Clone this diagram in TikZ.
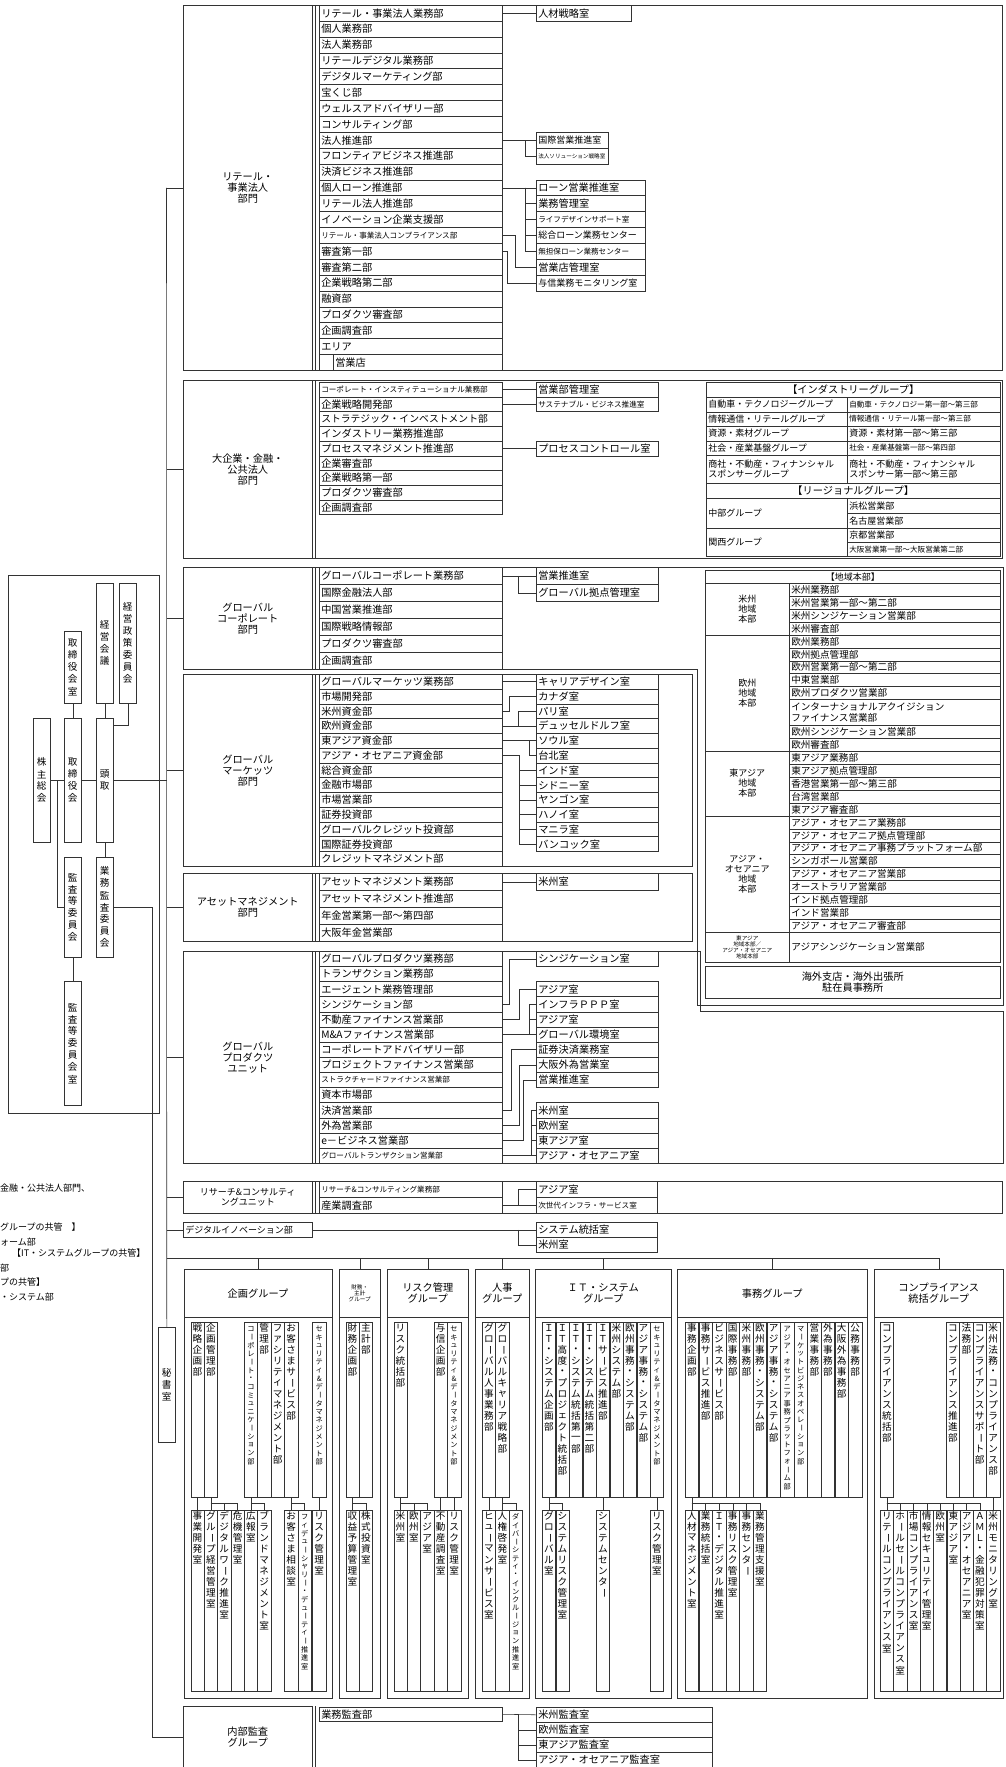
\documentclass[tikz,border=0pt]{standalone}
\usepackage{fontspec}
\usepackage{graphicx}
\setmainfont{Noto Sans CJK JP}
\usetikzlibrary{positioning,calc}

\newcommand\dfont{\fontsize{10.2}{11}\selectfont}
\newcommand\rfont{\fontsize{9.6}{10.6}\selectfont}
\newcommand\mfont{\fontsize{9}{10}\selectfont}
\newcommand\sfont{\fontsize{7.6}{8.4}\selectfont}
\newcommand\tfont{\fontsize{5.6}{6.2}\selectfont}
\newcommand\vfont{\fontsize{9.6}{10}\selectfont}
\newcommand\vsfont{\fontsize{7.2}{8}\selectfont}

% vertical text: one glyph per line
\makeatletter
\def\tate@bar{ー}
\newcommand\tate[2][1.15]{\def\tate@p{#1}\edef\tate@arg{#2}%
  \vtop{\offinterlineskip\expandafter\tate@run\expandafter{\tate@arg}}}
\def\tate@run#1{\@tfor\tate@c:=#1\do{\tate@one}}
\def\tate@one{\vbox to \tate@p em{\vss\hbox to 1em{\hss
  \ifx\tate@c\tate@bar\rotatebox[origin=c]{-90}{ー}\else\tate@c\fi\hss}\vss}}
\makeatother

\tikzset{
  ln/.style={draw=black!80, line width=.55pt},
  base/.style={ln, anchor=north west, inner ysep=0pt, inner xsep=2pt},
  dept/.style={base, text width=179pt, minimum height=#1, align=left, font=\dfont},
  room/.style 2 args={base, text width=#1, minimum height=#2, align=left, font=\dfont},
  seclabel/.style={base, minimum width=129, minimum height=#1, align=center, font=\dfont},
  grphead/.style={base, inner xsep=0pt, minimum width=#1, minimum height=48, align=center, font=\dfont},
  ucol/.style={ln, anchor=north west, inner sep=0pt, minimum width=13.4, text height=11pt, text depth=164pt, font=\vfont},
  lcol/.style={ucol, text depth=170pt},
  gov/.style={ln, anchor=north west, inner sep=0pt, minimum width=17, minimum height=#1, font=\vfont},
  note/.style={anchor=west, inner sep=0pt, font=\mfont},
}

\begin{document}
\begin{tikzpicture}[x=1pt,y=-1pt]
\fill[white] (0,0) rectangle (1005,1767);
\useasboundingbox (0,0) rectangle (1005,1767);
\coordinate (tk) at (166.5,0);
\coordinate (au) at (152,0);

% governance
\draw[ln] (8,575) rectangle (159,1113);
\node[gov=124] (kabunushi) at (33,718) {\tate[1.25]{株主総会}};
\node[gov=124] (torishimari) at (64,718) {\tate[1.25]{取締役会}};
\node[gov=72] (torishitsu) at (64,631) {\tate[1.25]{取締役会室}};
\node[gov=124] (todori) at (96,718) {\tate[1.25]{頭取}};
\node[gov=120] (keieikaigi) at (96,583) {\tate[1.25]{経営会議}};
\node[gov=120] (seisaku) at (119,583) {\tate[1.25]{経営政策委員会}};
\node[gov=100] (kansaiin) at (64,857) {\tate[1.25]{監査等委員会}};
\node[gov=100] (gyokan) at (96,857) {\tate[1.25]{業務監査委員会}};
\node[gov=124] (kansashitsu) at (64,981) {\tate[1.25]{監査等委員会室}};
\node[gov=115] (hisho) at (158,1327) {\tate[1.25]{秘書室}};
\draw[ln] (kabunushi.east) -- (torishimari.west);
\draw[ln] (torishimari.east) -- (todori.west);
\draw[ln] (torishitsu.south) -- (torishimari.north);
\draw[ln] (keieikaigi.south) -- (todori.north);
\draw[ln] (seisaku.south) |- ([yshift=-7pt]todori.north east);
\draw[ln] (todori.south) -- (gyokan.north);
\draw[ln] (kansaiin.south) -- (kansashitsu.north);
\draw[ln] ($(kabunushi.east)!.5!(torishimari.west)$) |- (kansaiin.west);
\draw[ln] (todori.east) -- (todori.east -| tk);

% notes (cut at the left edge)
\node[note] (n1) at (0,1188) {金融・公共法人部門、};
\node[note] (n2) at (0,1227) {グループの共管　】};
\node[note] (n3) at (0,1242) {ォーム部};
\node[note] (n4) at (12,1253) {【IT・システムグループの共管】};
\node[note] (n5) at (0,1268) {部};
\node[note] (n6) at (0,1282) {プの共管】};
\node[note] (n7) at (0,1297) {・システム部};

% retail
\draw[ln] (183,5) rectangle (1002,370);
\node[seclabel=365] (retail) at (183,5) {リテール・\\事業法人\\部門};
\draw[ln] (315,5) -- (315,370);
\foreach \t [count=\i] in {リテール・事業法人業務部,個人業務部,法人業務部,リテールデジタル業務部,デジタルマーケティング部,宝くじ部,ウェルスアドバイザリー部,コンサルティング部,法人推進部,フロンティアビジネス推進部,決済ビジネス推進部,個人ローン推進部,リテール法人推進部,イノベーション企業支援部,{\sfont リテール・事業法人コンプライアンス部},審査第一部,審査第二部,企業戦略第二部,融資部,プロダクツ審査部,企画調査部}
  \node[dept=15.87] (ra\i) at (319,{5+(\i-1)*15.87}) {\t};
\node[dept=15.87] (area) at (319,{5+21*15.87}) {エリア};
\node[room={165pt}{15.87}] (eigyoten) at (333,{5+22*15.87}) {営業店};
\draw[ln] (area.south west) -- (area.south west |- eigyoten.south) -- (eigyoten.south west);
\node[room={91pt}{15.87}] (jinzai) at (536,5) {人材戦略室};
\node[room={68pt}{15.87}, font=\mfont] (kokusai) at (536,{5+8*15.87}) {国際営業推進室};
\node[room={68pt}{15.87}, font=\tfont] (hojinsol) at (536,{5+9*15.87}) {法人ソリューション戦略室};
\foreach \t/\f [count=\i] in {ローン営業推進室/\dfont,業務管理室/\dfont,ライフデザインサポート室/\sfont,総合ローン業務センター/\mfont,無担保ローン業務センター/\sfont,営業店管理室/\dfont,与信業務モニタリング室/\mfont}
  \node[room={105pt}{15.87}, font=\f] (rl\i) at (536,{5+(10+\i)*15.87}) {\t};
\draw[ln] (ra1.east) -- (jinzai.west);
\draw[ln] (ra9.east) -- (kokusai.west);
\draw[ln] (ra9.east) ++(23,0) |- (hojinsol.west);
\draw[ln] (ra12.east) -- (rl1.west);
\foreach \i in {2,...,5} \draw[ln] (ra12.east) ++(23,0) |- (rl\i.west);
\draw[ln] (ra15.east) -- ++(13,0) |- (rl6.west);
\draw[ln] (ra16.east) -- ++(5,0) |- (rl7.west);

% large corporates
\draw[ln] (183,380) rectangle (1002,558);
\node[seclabel=178] (daikigyo) at (183,380) {大企業・金融・\\公共法人\\部門};
\draw[ln] (315,380) -- (315,558);
\foreach \t [count=\i] in {{\sfont コーポレート・インスティテューショナル業務部},企業戦略開発部,{\fontsize{9.8}{10.5}\selectfont ストラテジック・インベストメント部},インダストリー業務推進部,プロセスマネジメント推進部,企業審査部,企業戦略第一部,プロダクツ審査部,企画調査部}
  \node[dept=14.7] (rb\i) at (319,{382+(\i-1)*14.7}) {\t};
\node[room={118pt}{14.7}] (eikan) at (536,382) {営業部管理室};
\node[room={118pt}{14.7}, font=\sfont] (sustain) at (536,396.7) {サステナブル・ビジネス推進室};
\node[room={118pt}{14.7}] (proc) at (536,{382+4*14.7}) {プロセスコントロール室};
\draw[ln] (rb1.east) -- (eikan.west);
\draw[ln] (rb2.east) -- (sustain.west);
\draw[ln] (rb5.east) -- (proc.west);
% industry / regional groups
\node[base, minimum width=294, minimum height=15, font=\dfont] (indh) at (706,382) {【インダストリーグループ】};
\foreach \l/\r/\y/\h [count=\i] in {自動車・テクノロジーグループ/{\sfont 自動車・テクノロジー第一部～第三部}/397/14.5,情報通信・リテールグループ/{\sfont 情報通信・リテール第一部～第三部}/411.5/14.5,資源・素材グループ/資源・素材第一部～第三部/426/14.5,社会・産業基盤グループ/{\sfont 社会・産業基盤第一部～第四部}/440.5/14.5,商社・不動産・フィナンシャル\\スポンサーグループ/商社・不動産・フィナンシャル\\スポンサー第一部～第三部/455/28}
{
  \node[room={137pt}{\h}, font=\mfont] (ind\i) at (706,\y) {\l};
  \node[room={149pt}{\h}, font=\mfont] (indr\i) at (847,\y) {\r};
}
\node[base, minimum width=294, minimum height=15, font=\dfont] (regh) at (706,483) {【リージョナルグループ】};
\node[room={137pt}{30}, font=\mfont] (chubu) at (706,498) {中部グループ};
\node[room={137pt}{28}, font=\mfont] (kansai) at (706,528) {関西グループ};
\node[room={149pt}{15}, font=\mfont] (hamamatsu) at (847,498) {浜松営業部};
\node[room={149pt}{15}, font=\mfont] (nagoya) at (847,513) {名古屋営業部};
\node[room={149pt}{14}, font=\mfont] (kyoto) at (847,528) {京都営業部};
\node[room={149pt}{14}, font=\sfont] (osaka) at (847,542) {大阪営業第一部～大阪営業第二部};

% global corporate
\draw[ln] (183,567) -- (1003,567) -- (1003,1005) -- (697,1005) -- (697,669) -- (183,669) -- cycle;
\node[seclabel=102] (gcorp) at (183,567) {グローバル\\コーポレート\\部門};
\draw[ln] (315,567) -- (315,669);
\foreach \t [count=\i] in {グローバルコーポレート業務部,国際金融法人部,中国営業推進部,国際戦略情報部,プロダクツ審査部,企画調査部}
  \node[dept=17] (gc\i) at (319,{567+(\i-1)*17}) {\t};
\node[room={118pt}{17}] (gsuishin) at (536,567) {営業推進室};
\node[room={118pt}{17}] (gkyoten) at (536,584) {グローバル拠点管理室};
\draw[ln] (gc1.east) -- (gsuishin.west);
\draw[ln] (gc1.east) ++(16,0) |- (gkyoten.west);
% regional headquarters
\node[base, minimum width=295, minimum height=13, font=\mfont] (chiiki) at (705,570) {【地域本部】};
\node[room={80pt}{51.7}, align=center, font=\mfont] (beishu) at (705,583) {米州\\地域\\本部};
\node[room={80pt}{116.3}, align=center, font=\mfont] (oushu) at (705,634.7) {欧州\\地域\\本部};
\node[room={80pt}{64.6}, align=center, font=\mfont] (higashi) at (705,751) {東アジア\\地域\\本部};
\node[room={80pt}{116.4}, align=center, font=\mfont] (asiaoc) at (705,815.6) {アジア・\\オセアニア\\地域\\本部};
\node[room={80pt}{30}, align=center, font=\tfont] (eastasia) at (705,932) {東アジア\\地域本部／\\アジア・オセアニア\\地域本部};
\foreach \u/\t in {0/米州業務部,1/米州営業第一部～第二部,2/米州シンジケーション営業部,3/米州審査部,4/欧州業務部,5/欧州拠点管理部,6/欧州営業第一部～第二部,7/中東営業部,8/欧州プロダクツ営業部,11/欧州シンジケーション営業部,12/欧州審査部,13/東アジア業務部,14/東アジア拠点管理部,15/香港営業第一部～第三部,16/台湾営業部,17/東アジア審査部,18/アジア・オセアニア業務部,19/アジア・オセアニア拠点管理部,20/アジア・オセアニア事務プラットフォーム部,21/シンガポール営業部,22/アジア・オセアニア営業部,23/オーストラリア営業部,24/インド拠点管理部,25/インド営業部,26/アジア・オセアニア審査部}
  \node[room={207pt}{12.926}, font=\rfont] (rg\u) at (789,{583+\u*12.926}) {\t};
\node[room={207pt}{25.85}, font=\rfont] (rgiaf) at (789,{583+9*12.926}) {インターナショナルアクイジション\\ファイナンス営業部};
\node[room={207pt}{30}, font=\rfont] (asiasyn) at (789,932) {アジアシンジケーション営業部};
\node[base, minimum width=295, minimum height=32, align=center, font=\dfont] (kaigai) at (705,966) {海外支店・海外出張所\\駐在員事務所};

% global markets
\draw[ln] (183,674) rectangle (692,866);
\node[seclabel=192] (gmkt) at (183,674) {グローバル\\マーケッツ\\部門};
\draw[ln] (315,674) -- (315,866);
\foreach \t [count=\i] in {グローバルマーケッツ業務部,市場開発部,米州資金部,欧州資金部,東アジア資金部,アジア・オセアニア資金部,総合資金部,金融市場部,市場営業部,証券投資部,グローバルクレジット投資部,国際証券投資部,クレジットマネジメント部}
  \node[dept=14.77] (gm\i) at (319,{674+(\i-1)*14.77}) {\t};
\foreach \t [count=\i] in {キャリアデザイン室,カナダ室,パリ室,デュッセルドルフ室,ソウル室,台北室,インド室,シドニー室,ヤンゴン室,ハノイ室,マニラ室,バンコック室}
  \node[room={118pt}{14.77}] (gmr\i) at (536,{674+(\i-1)*14.77}) {\t};
\draw[ln] (gm1.east) -- (gmr1.west);
\draw[ln] (gm3.east) -- ++(7,0) |- (gmr2.west);
\draw[ln] (gm4.east) -- (gmr4.west);
\draw[ln] (gm4.east) ++(16,0) |- (gmr3.west);
\draw[ln] (gm5.east) -- (gmr5.west);
\draw[ln] (gm5.east) ++(27,0) |- (gmr6.west);
\draw[ln] (gm6.east) -- ++(17,0) |- (gmr7.west);
\foreach \i in {8,...,12} \draw[ln] (gm6.east) ++(17,0) |- (gmr\i.west);

% asset management
\draw[ln] (183,873) rectangle (692,941);
\node[seclabel=68] (asset) at (183,873) {アセットマネジメント\\部門};
\draw[ln] (315,873) -- (315,941);
\foreach \t [count=\i] in {アセットマネジメント業務部,アセットマネジメント推進部,年金営業第一部～第四部,大阪年金営業部}
  \node[dept=17] (am\i) at (319,{873+(\i-1)*17}) {\t};
\node[room={118pt}{17}] (amr) at (536,873) {米州室};
\draw[ln] (am1.east) -- (amr.west);

% global products
\draw[ln] (183,951) -- (700,951) -- (700,1011) -- (1003,1011) -- (1003,1163) -- (183,1163) -- cycle;
\node[seclabel=212] (gprod) at (183,951) {グローバル\\プロダクツ\\ユニット};
\draw[ln] (315,951) -- (315,1163);
\foreach \t [count=\i] in {グローバルプロダクツ業務部,トランザクション業務部,エージェント業務管理部,シンジケーション部,不動産ファイナンス営業部,M\&Aファイナンス営業部,コーポレートアドバイザリー部,プロジェクトファイナンス営業部,{\sfont ストラクチャードファイナンス営業部},資本市場部,決済営業部,外為営業部,e－ビジネス営業部,{\sfont グローバルトランザクション営業部}}
  \node[dept=15.14] (gp\i) at (319,{951+(\i-1)*15.14}) {\t};
\node[room={118pt}{15.14}] (gps) at (536,951) {シンジケーション室};
\foreach \t [count=\i] in {アジア室,インフラＰＰＰ室,アジア室,グローバル環境室,証券決済業務室,大阪外為営業室,営業推進室}
  \node[room={118pt}{15.14}] (gpa\i) at (536,{951+(\i+1)*15.14}) {\t};
\foreach \t [count=\i] in {米州室,欧州室,東アジア室,アジア・オセアニア室}
  \node[room={118pt}{15.14}] (gpb\i) at (536,{951+(\i+9)*15.14}) {\t};
\draw[ln] (gp4.east) -- ++(7,0) |- (gps.west);
\draw[ln] (gp5.east) -- ++(17,0) |- (gpa1.west);
\draw[ln] (gp6.east) -- (gpa4.west);
\foreach \c in {gpa2,gpa3} \draw[ln] (gp6.east) ++(27,0) |- (\c.west);
\draw[ln] (gp11.east) -- ++(9,0) |- (gpa5.west);
\draw[ln] (gp12.east) -- ++(17,0) |- (gpa6.west);
\draw[ln] (gp13.east) -- ++(21,0) |- (gpa7.west);
\draw[ln] (gp14.east) -- ++(29,0) |- (gpb1.west);
\foreach \i in {2,3,4} \draw[ln] (gp14.east) ++(29,0) |- (gpb\i.west);

% research & consulting
\draw[ln] (183,1181) rectangle (1002,1213);
\node[seclabel=32, font=\mfont] (research) at (183,1181) {リサーチ\&コンサルティ\\ングユニット};
\draw[ln] (315,1181) -- (315,1213);
\node[dept=16, font=\sfont] (res1) at (319,1181) {リサーチ\&コンサルティング業務部};
\node[dept=16] (res2) at (319,1197) {産業調査部};
\node[room={117pt}{16}] (resa) at (536,1181) {アジア室};
\node[room={117pt}{16}, font=\sfont] (resb) at (536,1197) {次世代インフラ・サービス室};
\draw[ln] (res2.east) -- (resb.west);
\draw[ln] (res2.east) ++(16,0) |- (resa.west);

% digital innovation
\node[room={125pt}{15}, font=\mfont] (digital) at (183,1222) {デジタルイノベーション部};
\node[room={117pt}{15}] (sysk) at (536,1222) {システム統括室};
\node[room={117pt}{15}] (digbei) at (536,1237) {米州室};
\draw[ln] (digital.east) -- (sysk.west);
\draw[ln] (digital.east) ++(206,0) |- (digbei.west);

% corporate groups
\node[grphead=147.5] (gk) at (184,1269) {企画グループ};
\node[grphead=41, font=\tfont] (gz) at (339,1269) {財務・\\主計\\グループ};
\node[grphead=81] (gr) at (387,1269) {リスク管理\\グループ};
\node[grphead=54] (gj) at (475,1269) {人事\\グループ};
\node[grphead=136] (gi) at (535,1269) {ＩＴ・システム\\グループ};
\node[grphead=190] (gw) at (677,1269) {事務グループ};
\node[grphead=129] (gcomp) at (874,1269) {コンプライアンス\\統括グループ};
\foreach \g in {gk,gz,gr,gj,gi,gw,gcomp} \draw[ln] (\g.south west) -- ++(0,381) -| (\g.south east);
\coordinate (gbus) at (166.5,1258);
\draw[ln] (gbus) -- (gcomp.north |- gbus);
\foreach \g in {gk,gz,gr,gj,gi,gw,gcomp} \draw[ln] (\g.north) -- (\g.north |- gbus);

% upper columns
\foreach \x/\n/\t in {190.5/ku1/戦略企画部,203.9/ku2/企画管理部,257.3/ku4/管理部,270.7/ku5/ファシリティマネジメント部,284.1/ku6/お客さまサービス部,345.5/zu1/財務企画部,358.9/zu2/主計部,393.5/ru1/リスク統括部,433.7/ru2/与信企画部,482/ju1/グローバル人事業務部,495.4/ju2/グローバルキャリア戦略部,542/iu1/ＩＴ・システム企画部,555.5/iu2/ＩＴ高度・プロジェクト統括部,569/iu3/ＩＴ・システム統括第一部,582.5/iu4/ＩＴ・システム統括第二部,596/iu5/ＩＴサービス推進部,609.5/iu6/米州システム部,623/iu7/欧州事務・システム部,636.5/iu8/アジア事務・システム部,685/wu1/事務企画部,698.6/wu2/事務サービス推進部,712.2/wu3/ビジネスサービス部,725.8/wu4/国際事務部,739.4/wu5/米州事務部,753/wu6/欧州事務・システム部,766.6/wu7/アジア事務・システム部,807.4/wu10/営業事務部,821/wu11/外為事務部,834.6/wu12/大阪外為事務部,848.2/wu13/公務事務部,880/cu1/コンプライアンス統括部,946/cu2/コンプライアンス推進部,959.4/cu3/法務部,972.8/cu4/コンプライアンスサポート部,986.2/cu5/米州法務・コンプライアンス部}
  \node[ucol] (\n) at (\x,1322) {\tate{\t}};
\foreach \x/\n/\t in {243.9/ku3/コーポレート・コミュニケーション部,312.3/ku7/セキュリティ\&データマネジメント部,447.1/ru3/セキュリティ\&データマネジメント部,650/iu9/セキュリティ\&データマネジメント部,780.2/wu8/アジア・オセアニア事務プラットフォーム部,793.8/wu9/マーケットビジネスオペレーション部}
  \node[ucol, font=\vsfont] (\n) at (\x,1322) {\tate{\t}};

% lower columns
\foreach \x/\n/\t in {190.5/kl1/事業開発室,203.9/kl2/グループ経営管理室,217.3/kl3/デジタルワーク推進室,230.6/kl4/危機管理室,243.9/kl5/広報室,257.3/kl6/ブランドマネジメント室,284.1/kl7/お客さま相談室,312.3/kl9/リスク管理室,345.5/zl1/収益予算管理室,358.9/zl2/株式投資室,393.5/rl1/米州室,406.9/rl2/欧州室,420.3/rl3/アジア室,433.7/rl4/不動産調査室,447.1/rl5/リスク管理室,482/jl1/ヒューマンサービス室,495.4/jl2/人権啓発室,542/il1/グローバル室,555.5/il2/システムリスク管理室,596/il3/システムセンター,650/il4/リスク管理室,685/wl1/人材マネジメント室,698.6/wl2/業務統括室,712.2/wl3/ＩＴ・デジタル推進室,725.8/wl4/事務リスク管理室,739.4/wl5/事務センター,753/wl6/業務管理支援室,880/cl1/リテールコンプライアンス室,893.3/cl2/ホールセールコンプライアンス室,906.6/cl3/市場コンプライアンス室,919.8/cl4/情報セキュリティ管理室,933.1/cl5/欧州室,946.4/cl6/東アジア室,959.7/cl7/アジア・オセアニア室,972.9/cl8/ＡＭＬ・金融犯罪対策室,986.2/cl9/米州モニタリング室}
  \node[lcol] (\n) at (\x,1510) {\tate{\t}};
\foreach \x/\n/\t in {297.7/kl8/フィデューシャリー・デューティー推進室,508.8/jl3/ダイバーシティ・インクルージョン推進室}
  \node[lcol, font=\vsfont] (\n) at (\x,1510) {\tate{\t}};

% upper to lower
\foreach \p/\c in {ku1/kl1,ku2/kl2,ku3/kl5,ku6/kl7,ku7/kl9,zu1/zl1,ru1/rl1,ru2/rl4,ru3/rl5,ju1/jl1,ju2/jl2,iu1/il1,iu5/il3,iu9/il4,wu1/wl1,cu1/cl1,cu5/cl9}
  \draw[ln] (\p.south) -- (\c.north);
\foreach \p/\c in {ku2/kl3,ku2/kl4,ku3/kl6,ku6/kl8,zu1/zl2,ru1/rl2,ru1/rl3,ju2/jl3,iu1/il2,wu1/wl2,wu1/wl3,wu1/wl4,wu1/wl5,wu1/wl6,cu1/cl2,cu1/cl3,cu1/cl4,cu1/cl5,cu1/cl6,cu1/cl7,cu1/cl8}
  \draw[ln] (\p.south) ++(0,6) -| (\c.north);

% internal audit
\node[seclabel=61] (naibu) at (183,1706) {内部監査\\グループ};
\draw[ln] (315,1706) -- (315,1767);
\node[dept=14] (gyomukansa) at (319,1707) {業務監査部};
\foreach \t [count=\i] in {米州監査室,欧州監査室,東アジア監査室,アジア・オセアニア監査室}
  \node[room={172pt}{15}] (ia\i) at (536,{1707+(\i-1)*15}) {\t};
\draw[ln] (gyomukansa.east) -- (ia1.west);
\foreach \i in {2,3,4} \draw[ln] (gyomukansa.east) ++(16,0) |- (ia\i.west);
\draw[ln] (gyokan.east) -- (gyokan.east -| au) |- (naibu.west);

% trunk
\draw[ln] (retail.west -| tk) -- (hisho.north);
\foreach \s in {retail,daikigyo,gcorp,gmkt,asset,gprod,research,digital}
  \draw[ln] (\s.west) -- (\s.west -| tk);
\end{tikzpicture}
\end{document}
